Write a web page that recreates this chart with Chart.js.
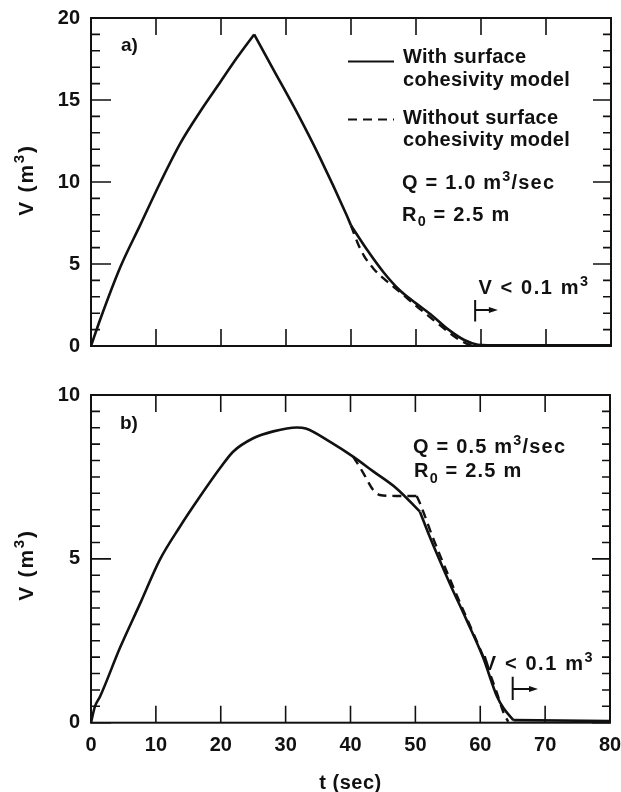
<!DOCTYPE html>
<html>
<head>
<meta charset="utf-8">
<script src="https://cdn.jsdelivr.net/npm/chart.js@4"></script>
<style>
  html, body { margin: 0; padding: 0; background: #fff; }
  #wrap { position: relative; width: 621px; height: 792px; }
  canvas { position: absolute; left: 0; }
  #ca { top: 0; }
  #cb { top: 370px; }
</style>
</head>
<body>
<div id="wrap">
  <canvas id="ca" width="621" height="370"></canvas>
  <canvas id="cb" width="621" height="422"></canvas>
</div>
<script>
// ===== データ =====
// a) Q = 1.0 m3/sec
const tA = [0, 1.4, 4.5, 7.6, 10.7, 13.8, 16.8, 19.9, 22.5, 25.1, 28, 31.6, 35.2, 39.3, 40, 42.5, 45, 47.5, 50, 52.5, 55, 57.5, 59.5, 61, 80];
const vA = [0, 1.6, 4.8, 7.4, 10.0, 12.4, 14.3, 16.1, 17.6, 19.0, 16.9, 14.3, 11.5, 8.0, 7.35, 5.85, 4.5, 3.4, 2.6, 1.85, 1.0, 0.35, 0.08, 0.05, 0.05];
const tAdash = [40, 41, 42, 43.5, 45.5, 47.5, 50, 52.5, 55, 57, 58.5, 60];
const vAdash = [7.35, 6.3, 5.5, 4.7, 3.95, 3.3, 2.45, 1.65, 0.85, 0.3, 0.06, 0.04];
const kinksA = [25.1, 40];        // 折れ点 (ここで曲線を分割)

// b) Q = 0.5 m3/sec
const tB = [0, 0.6, 1.4, 4.5, 7.6, 10.6, 13.7, 16.8, 19.9, 21.9, 25, 28.1, 31.7, 33.1, 36.8, 40.4, 43.5, 47.1, 50.7, 52.2, 55.3, 57.9, 60.4, 62.6, 63.6, 65.1, 80];
const vB = [0, 0.49, 0.8, 2.3, 3.65, 4.97, 5.98, 6.9, 7.77, 8.27, 8.68, 8.89, 9.01, 8.98, 8.58, 8.12, 7.67, 7.15, 6.44, 5.68, 4.25, 3.13, 2.01, 0.79, 0.44, 0.08, 0.05];
const tBdash = [40.4, 40.9, 42.0, 43.5, 44.5, 47, 50.2, 50.7, 51.5, 52.5, 55.5, 58, 60.5, 62.5, 63.6, 64.3];
const vBdash = [8.12, 7.97, 7.61, 7.1, 6.95, 6.92, 6.92, 6.7, 6.29, 5.75, 4.3, 3.15, 2.0, 0.95, 0.3, 0.03];
const kinksB = [50.7, 65.1];
const kinksBdash = [50.2];

// 目盛り
const xTicks = [0, 10, 20, 30, 40, 50, 60, 70, 80];
const yTicksA = [0, 5, 10, 15, 20];
const yTicksB = [0, 5, 10];
const yMinorA = 1;
const yMinorB = 0.5;

const SANS = '"Liberation Sans", Arial, Helvetica, sans-serif';
const INK = '#111';
Chart.defaults.font.family = SANS;
Chart.defaults.color = INK;

// ===== ユーティリティ =====
// 折れ点で分割した点列を返す
function split(ts, vs, breaks) {
    const segs = [];
    let cur = [];
    ts.forEach((t, i) => {
        cur.push({ x: t, y: vs[i] });
        if (breaks.includes(t) && cur.length > 1) {
            segs.push(cur);
            cur = [{ x: t, y: vs[i] }];
        }
    });
    if (cur.length > 1) segs.push(cur);
    return segs;
}

// parts: [text, mode]  mode 0=通常, 1=上付き, -1=下付き
function rich(ctx, x, y, parts, size, spacing, dry) {
    let cx = x;
    for (const [txt, mode] of parts) {
        const s = mode ? size * 0.72 : size;
        ctx.font = `bold ${s}px ${SANS}`;
        if ('letterSpacing' in ctx) ctx.letterSpacing = (spacing || 0) + 'px';
        const dy = mode === 1 ? -size * 0.4 : (mode === -1 ? size * 0.28 : 0);
        if (!dry) ctx.fillText(txt, cx, y + dy);
        cx += ctx.measureText(txt).width;
    }
    return cx - x;
}

function vLabel(ctx, a, x, y) {
    // V < 0.1 m3 と |→ マーク
    const px = x.getPixelForValue(a.textT);
    const py = y.getPixelForValue(a.textV);
    rich(ctx, px, py, [['V < 0.1 m', 0], ['3', 1]], 20, 1.6);
    const bx = x.getPixelForValue(a.barT);
    ctx.lineWidth = 2;
    ctx.beginPath();
    ctx.moveTo(bx, y.getPixelForValue(a.barV0));
    ctx.lineTo(bx, y.getPixelForValue(a.barV1));
    const ay = y.getPixelForValue(a.arrowV);
    const ax = x.getPixelForValue(a.arrowT);
    ctx.moveTo(bx, ay);
    ctx.lineTo(ax - 6, ay);
    ctx.stroke();
    ctx.beginPath();
    ctx.moveTo(ax, ay);
    ctx.lineTo(ax - 9, ay - 3);
    ctx.lineTo(ax - 9, ay + 3);
    ctx.closePath();
    ctx.fill();
}

function yTitle(ctx, cx, cy) {
    const size = 21;
    ctx.save();
    ctx.translate(cx, cy);
    ctx.rotate(-Math.PI / 2);
    const parts = [['V (m', 0], ['3', 1], [')', 0]];
    const w = rich(ctx, 0, 0, parts, size, 1.8, true);
    rich(ctx, -w / 2, size * 0.36, parts, size, 1.8);
    ctx.restore();
}

// 目盛りラベルによる自動余白を無効にする
function noScalePadding(s) {
    s.paddingTop = 0;
    s.paddingBottom = 0;
    s.paddingLeft = 0;
    s.paddingRight = 0;
}

function framePlugin(cfg) {
    return {
        id: 'frame_' + cfg.name,
        afterDraw(chart) {
            const { ctx, chartArea: a, scales: { x, y } } = chart;
            ctx.save();
            ctx.strokeStyle = INK;
            ctx.fillStyle = INK;
            ctx.lineCap = 'butt';

            // 内向きの目盛り
            ctx.lineWidth = 1.6;
            ctx.beginPath();
            xTicks.forEach(v => {
                const px = x.getPixelForValue(v);
                ctx.moveTo(px, a.top); ctx.lineTo(px, a.top + 17);
                ctx.moveTo(px, a.bottom); ctx.lineTo(px, a.bottom - 17);
            });
            const n = Math.round(cfg.yMax / cfg.yMinor);
            for (let i = 0; i <= n; i++) {
                const v = i * cfg.yMinor;
                const major = cfg.yTicks.includes(v);
                const py = y.getPixelForValue(v);
                ctx.moveTo(a.left, py); ctx.lineTo(a.left + (major ? 20 : 9), py);
                ctx.moveTo(a.right, py); ctx.lineTo(a.right - (major ? 18 : 8), py);
            }
            ctx.stroke();

            // 枠
            ctx.lineWidth = 2;
            ctx.strokeRect(a.left, a.top, a.right - a.left, a.bottom - a.top);

            ctx.textBaseline = 'alphabetic';
            ctx.textAlign = 'left';
            cfg.draw(ctx, chart, x, y);
            ctx.restore();
        }
    };
}

function makePanel(canvas, cfg) {
    const line = (data, dashed) => ({
        data,
        borderColor: INK,
        borderWidth: dashed ? 2.4 : 2.6,
        borderDash: dashed ? [9, 6] : [],
        pointRadius: 0,
        cubicInterpolationMode: 'monotone',
        fill: false
    });
    const datasets = [
        ...cfg.solid.map(s => line(s, false)),
        ...cfg.dash.map(s => line(s, true))
    ];
    return new Chart(canvas, {
        type: 'line',
        data: { datasets },
        options: {
            responsive: false,
            animation: false,
            events: [],
            layout: { autoPadding: false, padding: cfg.padding },
            plugins: { legend: { display: false }, tooltip: { enabled: false } },
            scales: {
                x: {
                    type: 'linear', min: 0, max: 80,
                    grid: { display: false, drawTicks: false },
                    border: { display: false },
                    afterBuildTicks: s => { s.ticks = xTicks.map(v => ({ value: v })); },
                    afterFit: s => { s.height = cfg.xHeight; noScalePadding(s); },
                    ticks: {
                        display: cfg.showX, autoSkip: false, maxRotation: 0, padding: 11,
                        font: { size: 20, weight: 'bold' }, color: INK
                    }
                },
                y: {
                    type: 'linear', min: 0, max: cfg.yMax,
                    grid: { display: false, drawTicks: false },
                    border: { display: false },
                    afterBuildTicks: s => { s.ticks = cfg.yTicks.map(v => ({ value: v })); },
                    afterFit: s => { s.width = 91; noScalePadding(s); },
                    ticks: { padding: 11, font: { size: 20, weight: 'bold' }, color: INK }
                }
            }
        },
        plugins: [framePlugin(cfg)]
    });
}

// ===== a) =====
makePanel(document.getElementById('ca'), {
    name: 'a',
    solid: split(tA, vA, kinksA),
    dash: split(tAdash, vAdash, []),
    yMax: 20, yTicks: yTicksA, yMinor: yMinorA,
    padding: { top: 18, right: 10, left: 0, bottom: 0 },
    xHeight: 24, showX: false,
    draw(ctx, chart, x, y) {
        rich(ctx, 121, 51, [['a)', 0]], 19, 0);
        // 凡例
        ctx.lineWidth = 2;
        ctx.beginPath(); ctx.moveTo(348, 61.5); ctx.lineTo(394, 61.5); ctx.stroke();
        ctx.setLineDash([9, 6]);
        ctx.beginPath(); ctx.moveTo(348, 119.5); ctx.lineTo(394, 119.5); ctx.stroke();
        ctx.setLineDash([]);
        rich(ctx, 403, 62.5, [['With surface', 0]], 20, 0.3);
        rich(ctx, 403, 85.5, [['cohesivity model', 0]], 20, 0.3);
        rich(ctx, 403, 124, [['Without surface', 0]], 20, 0.3);
        rich(ctx, 403, 145.5, [['cohesivity model', 0]], 20, 0.3);
        rich(ctx, 402, 188.5, [['Q = 1.0 m', 0], ['3', 1], ['/sec', 0]], 20, 1.2);
        rich(ctx, 402, 220.5, [['R', 0], ['0', -1], [' = 2.5 m', 0]], 20, 1.2);
        vLabel(ctx, { textT: 59.6, textV: 3.15, barT: 59.1, barV0: 1.5, barV1: 2.8, arrowV: 2.2, arrowT: 62.6 }, x, y);
        yTitle(ctx, 25, 180);
    }
});

// ===== b) =====
makePanel(document.getElementById('cb'), {
    name: 'b',
    solid: split(tB, vB, kinksB),
    dash: split(tBdash, vBdash, kinksBdash),
    yMax: 10, yTicks: yTicksB, yMinor: yMinorB,
    padding: { top: 25, right: 11, left: 0, bottom: 0 },
    xHeight: 69.3, showX: true,
    draw(ctx, chart, x, y) {
        rich(ctx, 120, 59, [['b)', 0]], 19, 0);
        rich(ctx, 413, 82.5, [['Q = 0.5 m', 0], ['3', 1], ['/sec', 0]], 20, 1.2);
        rich(ctx, 414, 107, [['R', 0], ['0', -1], [' = 2.5 m', 0]], 20, 1.2);
        vLabel(ctx, { textT: 60.4, textV: 1.61, barT: 65.0, barV0: 0.69, barV1: 1.4, arrowV: 1.03, arrowT: 68.9 }, x, y);
        yTitle(ctx, 25, 195);
        // 横軸タイトル
        ctx.font = `bold 20px ${SANS}`;
        if ('letterSpacing' in ctx) ctx.letterSpacing = '0.5px';
        ctx.textAlign = 'center';
        ctx.fillText('t (sec)', (chart.chartArea.left + chart.chartArea.right) / 2, 419);
    }
});
</script>
</body>
</html>
